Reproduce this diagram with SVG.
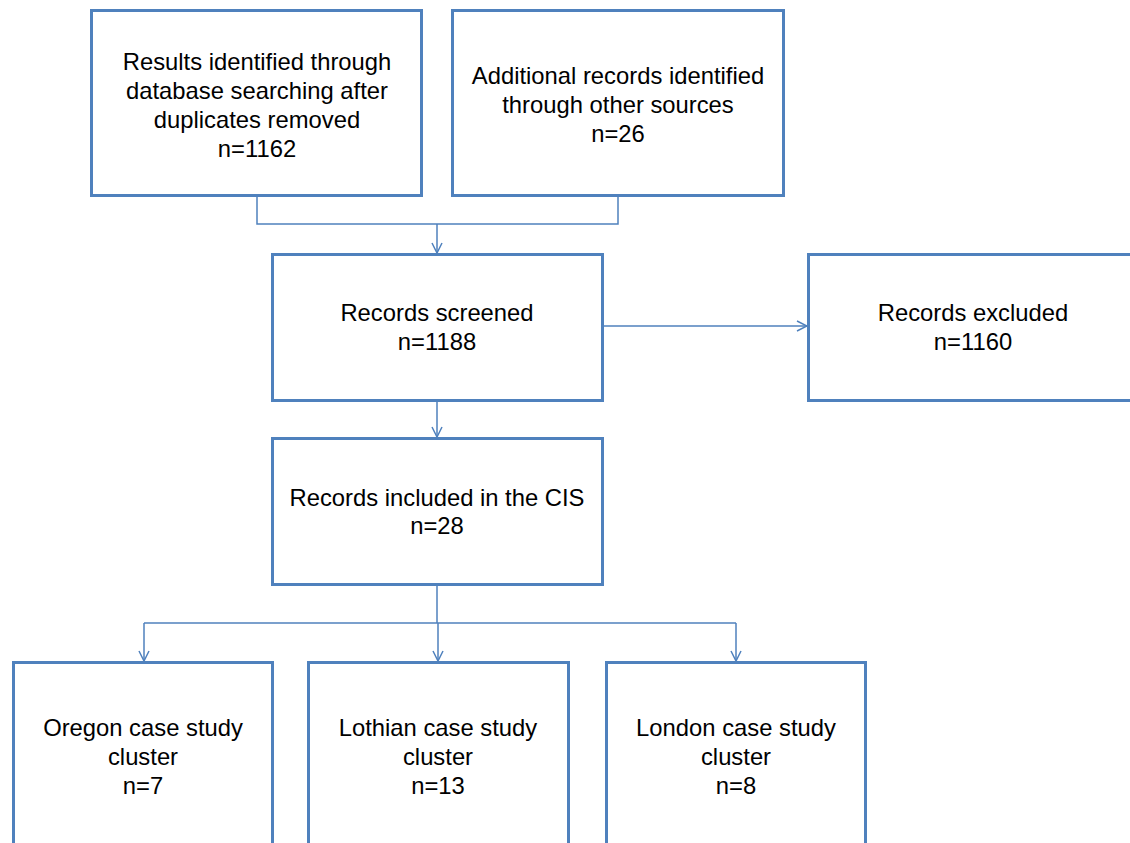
<svg xmlns="http://www.w3.org/2000/svg" width="1130" height="843" viewBox="0 0 1130 843">
<style>
.box{fill:#fff;stroke:#4F81BD;stroke-width:3}
.t{font-family:"Liberation Sans",Arial,sans-serif;font-size:23.8px;fill:#000;text-anchor:middle}
.c{fill:none;stroke:#4F81BD;stroke-width:1.5}
</style>
<defs>
<marker id="ah" viewBox="0 0 12 12" refX="11" refY="6" markerWidth="12" markerHeight="12" markerUnits="userSpaceOnUse" orient="auto">
<path d="M1,1 L11,6 L1,11" fill="none" stroke="#4F81BD" stroke-width="1.5"/>
</marker>
</defs>
<rect width="1130" height="843" fill="#fff"/>
<g id="connectors">
<path class="c" d="M257,195 V224 H618 V195"/>
<path class="c" d="M437,224 V253" marker-end="url(#ah)"/>
<path class="c" d="M602,326 H807" marker-end="url(#ah)"/>
<path class="c" d="M437,400 V437" marker-end="url(#ah)"/>
<path class="c" d="M437,584 V623"/>
<path class="c" d="M144,623 H736"/>
<path class="c" d="M144,623 V661" marker-end="url(#ah)"/>
<path class="c" d="M438,623 V661" marker-end="url(#ah)"/>
<path class="c" d="M736,623 V661" marker-end="url(#ah)"/>
</g>
<g id="n1"><rect class="box" x="91.500" y="10.500" width="330" height="185"/>
<text class="t" x="257" y="70">Results identified through</text>
<text class="t" x="257" y="99">database searching after</text>
<text class="t" x="257" y="128">duplicates removed</text>
<text class="t" x="257" y="157">n=1162</text></g>
<g id="n2"><rect class="box" x="452.500" y="10.500" width="331" height="185"/>
<text class="t" x="618" y="84">Additional records identified</text>
<text class="t" x="618" y="113">through other sources</text>
<text class="t" x="618" y="142">n=26</text></g>
<g id="n3"><rect class="box" x="272.500" y="254.500" width="330" height="146"/>
<text class="t" x="437" y="321">Records screened</text>
<text class="t" x="437" y="350">n=1188</text></g>
<g id="n4"><rect class="box" x="808.500" y="254.500" width="340" height="146"/>
<text class="t" x="973" y="321">Records excluded</text>
<text class="t" x="973" y="350">n=1160</text></g>
<g id="n5"><rect class="box" x="272.500" y="438.500" width="330" height="146"/>
<text class="t" x="437" y="506">Records included in the CIS</text>
<text class="t" x="437" y="534">n=28</text></g>
<g id="n6"><rect class="box" x="13.500" y="662.500" width="259" height="200"/>
<text class="t" x="143" y="736">Oregon case study</text>
<text class="t" x="143" y="765">cluster</text>
<text class="t" x="143" y="794">n=7</text></g>
<g id="n7"><rect class="box" x="308.500" y="662.500" width="260" height="200"/>
<text class="t" x="438" y="736">Lothian case study</text>
<text class="t" x="438" y="765">cluster</text>
<text class="t" x="438" y="794">n=13</text></g>
<g id="n8"><rect class="box" x="606.500" y="662.500" width="259" height="200"/>
<text class="t" x="736" y="736">London case study</text>
<text class="t" x="736" y="765">cluster</text>
<text class="t" x="736" y="794">n=8</text></g>
</svg>
